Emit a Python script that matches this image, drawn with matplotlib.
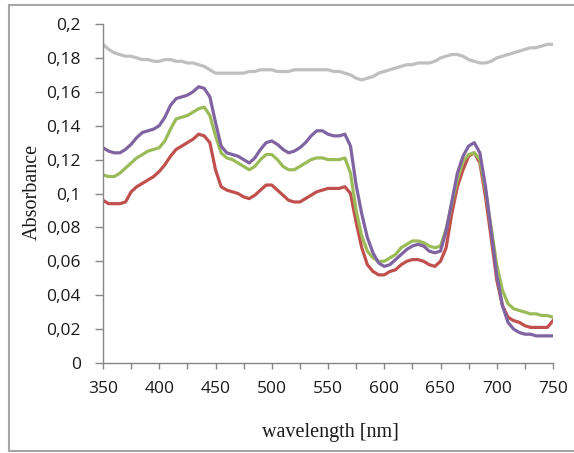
import matplotlib
matplotlib.use("Agg")
import matplotlib.pyplot as plt
from matplotlib.lines import Line2D
from matplotlib.ticker import MultipleLocator, FuncFormatter

wavelength = list(range(350, 751, 5))

purple = [0.127, 0.125, 0.124, 0.124, 0.126, 0.129, 0.133, 0.136, 0.137, 0.138,
          0.140, 0.145, 0.152, 0.156, 0.157, 0.158, 0.160, 0.163, 0.162, 0.157,
          0.142, 0.128, 0.124, 0.123, 0.122, 0.120, 0.118, 0.121, 0.126, 0.130,
          0.131, 0.129, 0.126, 0.124, 0.125, 0.127, 0.130, 0.134, 0.137, 0.137,
          0.135, 0.134, 0.134, 0.135, 0.128, 0.105, 0.088, 0.074, 0.065, 0.059,
          0.057, 0.058, 0.061, 0.064, 0.067, 0.069, 0.070, 0.069, 0.066, 0.065,
          0.066, 0.078, 0.095, 0.112, 0.122, 0.128, 0.130, 0.124, 0.104, 0.078,
          0.052, 0.034, 0.024, 0.020, 0.018, 0.017, 0.017, 0.016, 0.016, 0.016,
          0.016]

green = [0.111, 0.110, 0.110, 0.112, 0.115, 0.118, 0.121, 0.123, 0.125, 0.126,
         0.127, 0.131, 0.138, 0.144, 0.145, 0.146, 0.148, 0.150, 0.151, 0.146,
         0.134, 0.124, 0.121, 0.120, 0.118, 0.116, 0.114, 0.116, 0.120, 0.123,
         0.123, 0.120, 0.116, 0.114, 0.114, 0.116, 0.118, 0.120, 0.121, 0.121,
         0.120, 0.120, 0.120, 0.121, 0.112, 0.090, 0.075, 0.066, 0.062, 0.060,
         0.060, 0.062, 0.064, 0.068, 0.070, 0.072, 0.072, 0.071, 0.069, 0.068,
         0.069, 0.079, 0.094, 0.108, 0.119, 0.123, 0.124, 0.120, 0.102, 0.080,
         0.058, 0.043, 0.035, 0.032, 0.031, 0.030, 0.029, 0.029, 0.028, 0.028,
         0.027]

red = [0.096, 0.094, 0.094, 0.094, 0.095, 0.101, 0.104, 0.106, 0.108, 0.110,
       0.113, 0.117, 0.122, 0.126, 0.128, 0.130, 0.132, 0.135, 0.134, 0.130,
       0.114, 0.104, 0.102, 0.101, 0.100, 0.098, 0.097, 0.099, 0.102, 0.105,
       0.105, 0.102, 0.099, 0.096, 0.095, 0.095, 0.097, 0.099, 0.101, 0.102,
       0.103, 0.103, 0.103, 0.104, 0.100, 0.083, 0.068, 0.058, 0.054, 0.052,
       0.052, 0.054, 0.055, 0.058, 0.060, 0.061, 0.061, 0.060, 0.058, 0.057,
       0.060, 0.068, 0.088, 0.104, 0.114, 0.122, 0.124, 0.118, 0.098, 0.074,
       0.049, 0.034, 0.027, 0.025, 0.024, 0.022, 0.021, 0.021, 0.021, 0.021,
       0.025]

gray = [0.188, 0.185, 0.183, 0.182, 0.181, 0.181, 0.180, 0.179, 0.179, 0.178,
        0.178, 0.179, 0.179, 0.178, 0.178, 0.177, 0.177, 0.176, 0.175, 0.173,
        0.171, 0.171, 0.171, 0.171, 0.171, 0.171, 0.172, 0.172, 0.173, 0.173,
        0.173, 0.172, 0.172, 0.172, 0.173, 0.173, 0.173, 0.173, 0.173, 0.173,
        0.173, 0.172, 0.172, 0.171, 0.170, 0.168, 0.167, 0.168, 0.169, 0.171,
        0.172, 0.173, 0.174, 0.175, 0.176, 0.176, 0.177, 0.177, 0.177, 0.178,
        0.180, 0.181, 0.182, 0.182, 0.181, 0.179, 0.178, 0.177, 0.177, 0.178,
        0.180, 0.181, 0.182, 0.183, 0.184, 0.185, 0.186, 0.186, 0.187, 0.188,
        0.188]

fig = plt.figure(figsize=(5.74, 4.53), dpi=100)
ax = fig.add_axes([103/574, 1 - 363/453, 450/574, 339/453])

lw = 2.3
ax.plot(wavelength, gray, color="#BFBFBF", lw=lw, solid_joinstyle="round")
ax.plot(wavelength, red, color="#C0504D", lw=lw, solid_joinstyle="round")
ax.plot(wavelength, green, color="#9BBB59", lw=lw, solid_joinstyle="round")
ax.plot(wavelength, purple, color="#8064A2", lw=lw, solid_joinstyle="round")

ax.set_xlim(350, 750)
ax.set_ylim(0, 0.2)
ax.xaxis.set_major_locator(MultipleLocator(50))
ax.xaxis.set_minor_locator(MultipleLocator(25))
ax.yaxis.set_major_locator(MultipleLocator(0.02))

def yfmt(v, pos):
    s = f"{v:.2f}".rstrip("0").rstrip(".")
    return s.replace(".", ",")

ax.yaxis.set_major_formatter(FuncFormatter(yfmt))

for side in ["top", "right"]:
    ax.spines[side].set_visible(False)
for side in ["left", "bottom"]:
    ax.spines[side].set_color("#868686")
    ax.spines[side].set_linewidth(1.0)

tickfont = "Open Sans"
ax.tick_params(axis="both", which="both", direction="out", color="#868686", width=1.0)
ax.tick_params(axis="y", which="major", length=6, pad=10, labelsize=12.5)
ax.tick_params(axis="x", which="major", length=4, pad=9, labelsize=12.5)
ax.tick_params(axis="x", which="minor", length=4)
for lab in ax.get_xticklabels() + ax.get_yticklabels():
    lab.set_fontfamily(tickfont)
    lab.set_color("#1a1a1a")

fig.text(330/574, 1 - 432/453, "wavelength [nm]", family="Liberation Serif",
         fontsize=14.5, ha="center", va="center", color="#1a1a1a")
fig.text(32/574, 1 - 192/453, "Absorbance", family="Liberation Serif",
         fontsize=14.5, ha="center", va="center", rotation=90, color="#1a1a1a")

bc = "#A6A6A6"
fig.add_artist(Line2D([9/574, 1], [1 - 5/453, 1 - 5/453], color=bc, lw=1.5, transform=fig.transFigure))
fig.add_artist(Line2D([9/574, 1], [1 - 451/453, 1 - 451/453], color=bc, lw=1.5, transform=fig.transFigure))
fig.add_artist(Line2D([9/574, 9/574], [1 - 5/453, 1 - 451/453], color=bc, lw=1.5, transform=fig.transFigure))

fig.savefig("out.png", dpi=100)
